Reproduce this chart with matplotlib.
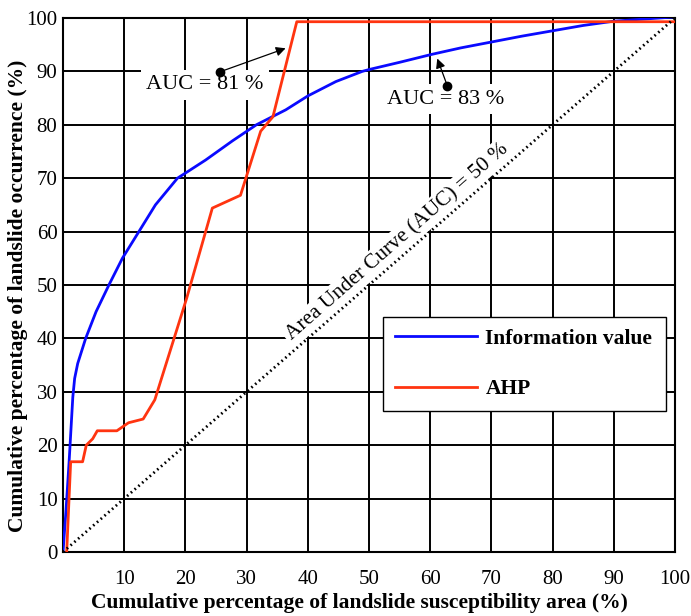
#ROC curves for the landslide susceptibility maps
#information value vs. AHP, with the 50 % line as reference

import matplotlib.pyplot as plt

plt.rcParams['font.family'] = ['Liberation Serif', 'DejaVu Serif']

# curve values (x = area %, y = landslide occurrence %)
iv_x = [0, 0.5, 1.0, 1.3, 1.6, 1.9, 2.4, 3.7, 5.4, 7.5, 9.7, 12.4, 15.1, 18.7, 20.6, 23.3, 27.7, 31.6, 36.4, 40,
        44.6, 48.9, 50.2, 55, 60.3, 65, 70, 75, 80, 85, 90, 95, 100]
iv_y = [0, 8, 17, 23, 29, 32.5, 35.3, 40, 45, 50, 55, 60, 65, 70, 71.4, 73.4, 77.0, 80, 82.8, 85.4,
        88.1, 90, 90.4, 91.7, 93.2, 94.4, 95.5, 96.6, 97.6, 98.6, 99.4, 99.8, 100.2]

ahp_x = [0.6, 1.25, 3.2, 3.8, 4.85, 5.6, 8.8, 10.7, 13.1, 15.0, 20.2, 24.4, 29.0, 32.3, 34.3, 38.2, 100]
ahp_y = [0, 16.9, 16.9, 20, 21.2, 22.7, 22.7, 24.2, 24.9, 28.5, 47.5, 64.4, 66.8, 78.8, 81.5, 99.3, 99.3]

diag = [0, 100]

ticks = list(range(0, 101, 10))
xtick_labels = [''] + [str(t) for t in ticks[1:]]

fig = plt.figure(figsize=(6.91, 6.16), dpi=100)
ax = fig.add_axes([0.0912, 0.1039, 0.8856, 0.8669])

ax.plot(iv_x, iv_y, color='#0a0aff', lw=2.0, label='Information value', zorder=4)
ax.plot(ahp_x, ahp_y, color='#ff3410', lw=2.0, label='AHP', zorder=4)
ax.plot(diag, diag, color='black', lw=2.0, linestyle=(0, (0.6, 1.2)), zorder=4)

ax.set_xlim(0, 100)
ax.set_ylim(0, 100)
ax.set_xticks(ticks)
ax.set_xticklabels(xtick_labels)
ax.set_yticks(ticks)
ax.tick_params(length=0, labelsize=15, pad=4)
ax.tick_params(axis='x', pad=13)
ax.grid(True, color='black', lw=1.4)
ax.set_axisbelow(True)
for s in ax.spines.values():
    s.set_linewidth(1.5)

ax.set_xlabel('Cumulative percentage of landslide susceptibility area (%)',
              fontsize=15.5, fontweight='bold')
ax.set_ylabel('Cumulative percentage of landslide occurrence (%)',
              fontsize=15.5, fontweight='bold')
ax.xaxis.set_label_coords(0.485, -0.077)
ax.yaxis.set_label_coords(-0.058, 0.48)

box = dict(facecolor='white', edgecolor='none', pad=4)

# AUC labels with arrows
ax.text(23.2, 87.5, 'AUC = 81 %', fontsize=16, ha='center', va='center', bbox=box, zorder=3)
ax.annotate('', xy=(36.8, 94.5), xytext=(25.6, 89.9),
            arrowprops=dict(arrowstyle='-|>', color='black', lw=0.9, mutation_scale=14), zorder=5)
ax.plot([25.6], [89.9], 'o', color='black', ms=6, zorder=5)

ax.text(62.6, 84.8, 'AUC = 83 %', fontsize=16, ha='center', va='center', bbox=box, zorder=3)
ax.annotate('', xy=(61.0, 92.9), xytext=(62.8, 87.3),
            arrowprops=dict(arrowstyle='-|>', color='black', lw=0.9, mutation_scale=14), zorder=5)
ax.plot([62.8], [87.3], 'o', color='black', ms=6, zorder=5)

ax.text(54.6, 58.0, 'Area Under Curve (AUC) = 50 %', fontsize=15.3, rotation=41.2,
        rotation_mode='anchor', ha='center', va='center', bbox=dict(facecolor='white', edgecolor='none', pad=2),
        zorder=3)

leg = ax.legend(loc='upper left', bbox_to_anchor=(0.523, 0.256, 0.4625, 0.184), mode='expand',
                borderaxespad=0, prop={'weight': 'bold', 'size': 15.5}, handlelength=3.8,
                labelspacing=1.4, fancybox=False, framealpha=1, edgecolor='black',
                borderpad=0.55, handletextpad=0.4)
leg.get_frame().set_linewidth(1.0)
leg.set_zorder(6)

fig.savefig('out.png', dpi=100)
